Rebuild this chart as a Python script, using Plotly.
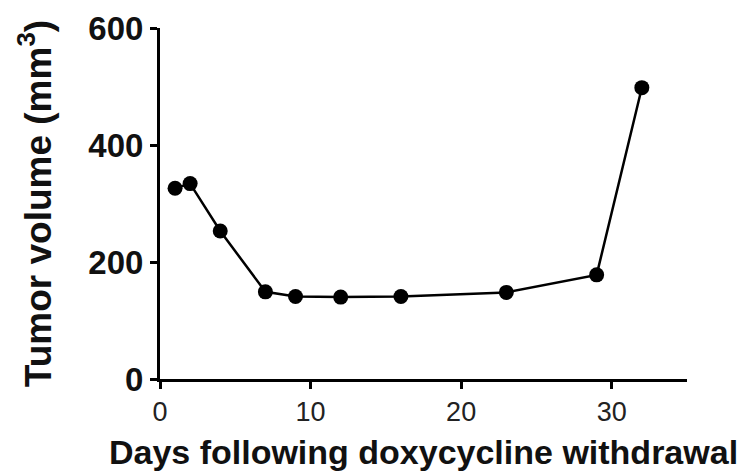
import plotly.graph_objects as go

days = [1, 2, 4, 7, 9, 12, 16, 23, 29, 32]
volume = [326, 334, 253, 149, 141, 140, 141, 148, 178, 498]
x_ticks = [0, 10, 20, 30]
y_ticks = [0, 200, 400, 600]

fig = go.Figure()
fig.add_trace(go.Scatter(
    x=days, y=volume, mode="lines+markers",
    line=dict(color="black", width=2.5),
    marker=dict(color="black", size=15),
    showlegend=False,
))

fig.update_layout(
    width=744, height=474,
    margin=dict(l=160, r=57, t=28, b=95),
    paper_bgcolor="white", plot_bgcolor="white",
    font=dict(family="Liberation Sans, Arial, sans-serif", color="black"),
)
fig.update_xaxes(
    range=[0, 35], tickvals=x_ticks, ticktext=[str(v) for v in x_ticks],
    showline=True, linecolor="black", linewidth=3,
    ticks="outside", ticklen=7, tickwidth=3, tickcolor="black",
    showgrid=False, zeroline=False, automargin=False,
    tickfont=dict(size=27, color="#222"),
    title=dict(text="<b>Days following doxycycline withdrawal</b>",
               font=dict(size=34, color="#111"), standoff=14),
)
fig.update_yaxes(
    range=[0, 600], tickvals=y_ticks, ticktext=[f"<b>{v}</b>" for v in y_ticks],
    showline=True, linecolor="black", linewidth=3,
    ticks="outside", ticklen=7, tickwidth=3, tickcolor="black",
    showgrid=False, zeroline=False, automargin=False,
    tickfont=dict(size=33, color="#111"),
    title=dict(text="<b>Tumor volume (mm<sup>3</sup>)</b>",
               font=dict(size=37, color="#111"), standoff=26),
)

fig.write_html("out.html")
